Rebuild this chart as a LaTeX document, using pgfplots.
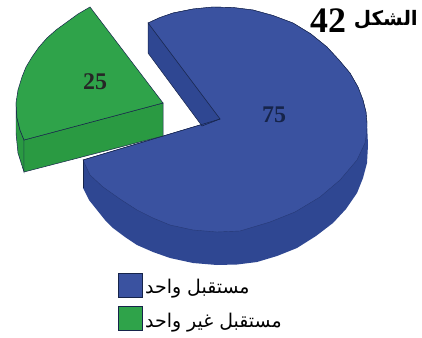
\documentclass[border=0pt]{standalone}
\usepackage{fontspec}
\setmainfont{Liberation Serif}
\newfontfamily\arabicfont[Script=Arabic]{DejaVu Sans}
\TeXXeTstate=1
\usepackage{pgfplots}
\pgfplotsset{compat=1.18}
\definecolor{blueT}{HTML}{3A52A0}
\definecolor{blueS}{HTML}{2F4792}
\definecolor{greenT}{HTML}{2FA34A}
\definecolor{greenS}{HTML}{2A9A42}
\definecolor{edgeD}{HTML}{16244A}
\begin{document}
\begin{tikzpicture}
\begin{axis}[scale only axis,width=422bp,height=338bp,hide axis,xmin=0,xmax=422,ymin=0,ymax=338,y dir=reverse,clip=false]
\addplot[draw=none,fill=white] coordinates {(0,0)(422,0)(422,338)(0,338)} --cycle;
% blue side
\addplot[fill=blueS,draw=none] coordinates {(83,160)(83,188)(89,200)(97,210)(105,220)(113,228)(125,237)(137,245)(153,252)(170,258)(193,263)(217,265)(237,264.5)(257,262)(277,256)(297,248)(316,236)(333,223)(346,209)(357,193)(363,178)(367,163)(368,145)(367,123)(220,119)} --cycle;
% blue top
\addplot[fill=blueT,draw=blueS!80!black,line width=0.4pt] coordinates {(148,23)(160,17.5)(173,13)(193,9)(213,7)(233,7.5)(253,10)(273,15.5)(293,23)(311,34)(327,47)(339,60)(350,73)(358,87)(363,100)(366,112)(367,123)(366.5,133)(365,143)(357,160)(340,180)(320,197)(295,212)(270,222)(240,231)(217,232)(193,230)(170,225)(153,218)(137,210)(120,199)(103,187)(90,175)(83,160)(220,119)} --cycle;
% blue cut wall
\addplot[fill=blueS,draw=edgeD,line width=0.5pt] coordinates {(148,23)(148,53)(202,126)(220,119)} --cycle;
% blue edge towards the green slice
\addplot[draw=edgeD,line width=0.5pt] coordinates {(83,160)(220,119)};
\addplot[draw=edgeD,line width=0.4pt] coordinates {(148,23)(160,17.5)(173,13)(193,9)(213,7)(233,7.5)(253,10)(273,15.5)(293,23)(311,34)(327,47)(339,60)(350,73)(358,87)(363,100)(366,112)(367,123)};
\addplot[draw=edgeD,line width=0.5pt] coordinates {(83,160)(83,188)};
% green rim
\addplot[fill=greenS,draw=edgeD,line width=0.5pt] coordinates {(16,103)(16,133)(18,153)(24,172)(24,140)(20,130)(17,118)} --cycle;
% green wall
\addplot[fill=greenS,draw=edgeD,line width=0.5pt] coordinates {(24,140)(24,172)(163,136)(163,103)} --cycle;
% green top
\addplot[fill=greenT,draw=edgeD,line width=0.5pt] coordinates {(90,7)(78,14)(67,22)(56,30)(47,38)(39,47)(32,57)(26,67)(22,77)(18,90)(16,103)(17,118)(20,130)(24,140)(163,103)} --cycle;
% legend
\addplot[fill=blueT,draw=edgeD,line width=0.6pt] coordinates {(118,273)(142,273)(142,297)(118,297)} --cycle;
\addplot[fill=greenT,draw=edgeD,line width=0.6pt] coordinates {(118,306)(142,306)(142,330)(118,330)} --cycle;
\node[anchor=west,inner sep=0,font=\arabicfont\fontsize{19}{21}\selectfont] at (axis cs:145,289) {\beginR مستقبل واحد\endR};
\node[anchor=west,inner sep=0,font=\arabicfont\fontsize{19}{21}\selectfont] at (axis cs:145,323) {\beginR مستقبل غير واحد\endR};
\node[inner sep=0,font=\bfseries\fontsize{24}{26}\selectfont,text=black!85] at (axis cs:95,82) {25};
\node[inner sep=0,font=\bfseries\fontsize{24}{26}\selectfont,text=edgeD] at (axis cs:274,115) {75};
\node[inner sep=0,font=\bfseries\fontsize{36}{38}\selectfont] at (axis cs:328,21) {42};
\node[anchor=east,inner sep=0,font=\arabicfont\bfseries\fontsize{20}{22}\selectfont] at (axis cs:418,20) {\beginR الشكل\endR};
\end{axis}
\end{tikzpicture}
\end{document}
